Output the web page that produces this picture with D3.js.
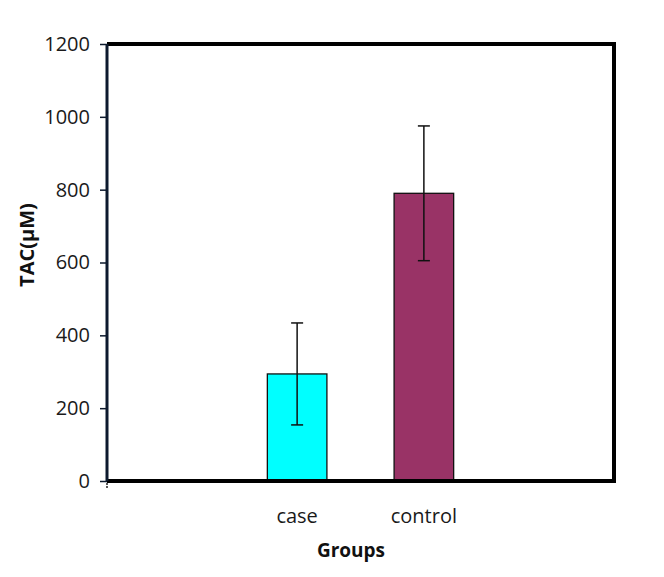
<!DOCTYPE html>
<html>
<head>
<meta charset="utf-8">
<script src="https://cdn.jsdelivr.net/npm/d3@7"></script>
<style>
  body { margin: 0; background: #fff; }
  text { font-family: "Open Sans", "DejaVu Sans", sans-serif; }
</style>
</head>
<body>
<div id="chart"></div>
<script>
var categories = ["case", "control"];
var means = [294, 790];
var errors = [140, 185];
var barColors = ["#00ffff", "#993366"];
var yTicks = [0, 200, 400, 600, 800, 1000, 1200];

var width = 664, height = 577;
var margin = { top: 44, right: 50, bottom: 96, left: 107 };

var svg = d3.select("#chart").append("svg")
  .attr("width", width)
  .attr("height", height);

var x = d3.scaleBand()
  .domain(categories)
  .range([margin.left, width - margin.right])
  .paddingInner(0)
  .paddingOuter(1);

var y = d3.scaleLinear()
  .domain([0, 1200])
  .range([height - margin.bottom, margin.top]);

var barW = x.bandwidth() * 0.47;

// frame (top, right, bottom)
svg.append("path")
  .attr("d", "M" + margin.left + "," + y(1200) + "H" + (width - margin.right) +
    "V" + y(0) + "H" + margin.left)
  .attr("fill", "none")
  .attr("stroke", "#000")
  .attr("stroke-width", 4);

// bars
svg.selectAll("rect.bar")
  .data(categories)
  .enter().append("rect")
  .attr("class", "bar")
  .attr("x", function(d) { return x(d) + (x.bandwidth() - barW) / 2; })
  .attr("width", barW)
  .attr("y", function(d, i) { return y(means[i]); })
  .attr("height", function(d, i) { return y(0) - y(means[i]); })
  .attr("fill", function(d, i) { return barColors[i]; })
  .attr("stroke", "#111")
  .attr("stroke-width", 1.3);

// error bars
var err = svg.selectAll("g.err")
  .data(categories)
  .enter().append("g")
  .attr("class", "err")
  .attr("stroke", "#111")
  .attr("stroke-width", 1.5);

err.append("line")
  .attr("x1", function(d) { return x(d) + x.bandwidth() / 2; })
  .attr("x2", function(d) { return x(d) + x.bandwidth() / 2; })
  .attr("y1", function(d, i) { return y(means[i] + errors[i]); })
  .attr("y2", function(d, i) { return y(means[i] - errors[i]); });

err.selectAll("line.cap")
  .data(function(d, i) { return [[d, means[i] + errors[i]], [d, means[i] - errors[i]]]; })
  .enter().append("line")
  .attr("class", "cap")
  .attr("x1", function(d) { return x(d[0]) + x.bandwidth() / 2 - 6; })
  .attr("x2", function(d) { return x(d[0]) + x.bandwidth() / 2 + 6; })
  .attr("y1", function(d) { return y(d[1]); })
  .attr("y2", function(d) { return y(d[1]); });

// bottom axis line redraw over bars
svg.append("line")
  .attr("x1", margin.left)
  .attr("x2", width - margin.right)
  .attr("y1", y(0))
  .attr("y2", y(0))
  .attr("stroke", "#000")
  .attr("stroke-width", 4);

// y axis
var yAxis = svg.append("g")
  .attr("transform", "translate(" + margin.left + ",0)")
  .call(d3.axisLeft(y).tickValues(yTicks).tickFormat(d3.format("d")).tickSize(7).tickPadding(10));

yAxis.select(".domain")
  .attr("d", "M0," + y(1200) + "V" + y(0))
  .attr("stroke", "#0d1a2e")
  .attr("stroke-width", 3);
yAxis.selectAll(".tick line").attr("stroke", "#0d1a2e").attr("stroke-width", 1.5);
yAxis.selectAll(".tick text")
  .attr("font-size", "20px")
  .attr("fill", "#1a1a1a")
  .style("font-family", "'Open Sans', sans-serif");

// small tick below x axis at origin
svg.append("line")
  .attr("x1", margin.left).attr("x2", margin.left)
  .attr("y1", y(0) + 2).attr("y2", y(0) + 8)
  .attr("stroke", "#222")
  .attr("stroke-width", 1.5)
  .attr("stroke-dasharray", "2,1");

// x labels
svg.selectAll("text.xlab")
  .data(categories)
  .enter().append("text")
  .attr("class", "xlab")
  .attr("x", function(d) { return x(d) + x.bandwidth() / 2; })
  .attr("y", 523)
  .attr("text-anchor", "middle")
  .attr("font-size", "20px")
  .attr("fill", "#1a1a1a")
  .text(function(d) { return d; });

// axis titles
svg.append("text")
  .attr("x", 351)
  .attr("y", 557)
  .attr("text-anchor", "middle")
  .attr("font-size", "19px")
  .attr("font-weight", "bold")
  .attr("fill", "#111")
  .text("Groups");

svg.append("text")
  .attr("transform", "translate(34,245)rotate(-90)")
  .attr("text-anchor", "middle")
  .attr("font-size", "20px")
  .attr("font-weight", "bold")
  .attr("fill", "#111")
  .text("TAC(μM)");
</script>
</body>
</html>
